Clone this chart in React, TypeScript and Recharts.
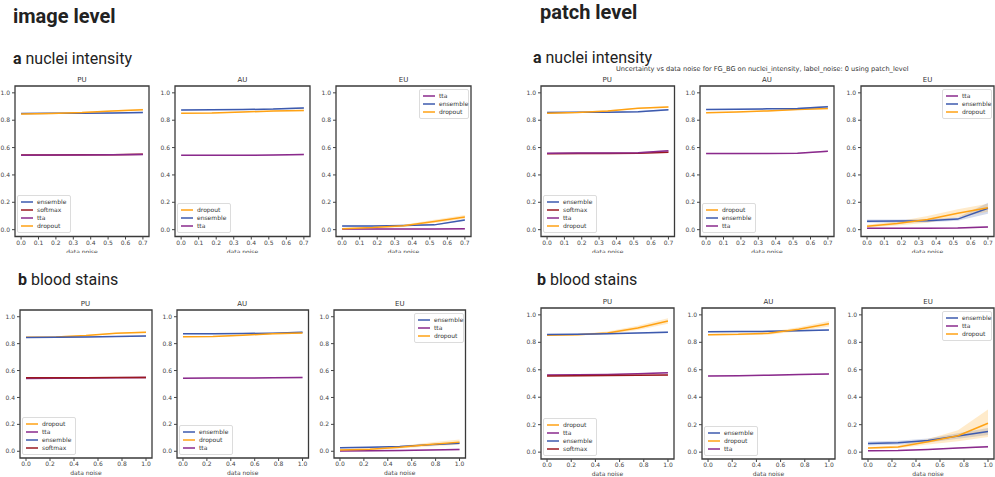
import React from "react";
import { ComposedChart, Line, Area, XAxis, YAxis, ReferenceArea } from "recharts";

// ---------- data ----------
const X_NUCLEI = [0, 0.175, 0.35, 0.525, 0.7];
const X_BLOOD = [0, 0.25, 0.5, 0.75, 1.0];
const X_TICKS_NUCLEI = [0, 0.1, 0.2, 0.3, 0.4, 0.5, 0.6, 0.7];
const X_TICKS_BLOOD = [0, 0.2, 0.4, 0.6, 0.8, 1.0];
const Y_TICKS = [0, 0.2, 0.4, 0.6, 0.8, 1.0];

const SUPTITLE = "Uncertainty vs data noise for FG_BG on nuclei_intensity, label_noise: 0 using patch_level";

// image level — a nuclei intensity
const imgNucPU_ensemble = [0.849, 0.85, 0.85, 0.852, 0.856];
const imgNucPU_softmax = [0.546, 0.546, 0.547, 0.548, 0.551];
const imgNucPU_tta = [0.544, 0.545, 0.546, 0.548, 0.55];
const imgNucPU_dropout = [0.846, 0.849, 0.856, 0.868, 0.877];
const imgNucAU_dropout = [0.851, 0.853, 0.86, 0.867, 0.871];
const imgNucAU_ensemble = [0.874, 0.876, 0.878, 0.881, 0.89];
const imgNucAU_tta = [0.543, 0.543, 0.544, 0.545, 0.549];
const imgNucEU_tta = [0.004, 0.004, 0.005, 0.005, 0.006];
const imgNucEU_ensemble = [0.026, 0.027, 0.03, 0.035, 0.07];
const imgNucEU_dropout = [0.007, 0.015, 0.028, 0.06, 0.093];
const imgNucEU_dropoutStd = [0.005, 0.006, 0.008, 0.012, 0.015];

// patch level — a nuclei intensity
const patNucPU_ensemble = [0.857, 0.858, 0.859, 0.861, 0.876];
const patNucPU_softmax = [0.555, 0.556, 0.557, 0.558, 0.566];
const patNucPU_tta = [0.559, 0.56, 0.561, 0.562, 0.576];
const patNucPU_dropout = [0.851, 0.857, 0.868, 0.887, 0.897];
const patNucAU_dropout = [0.855, 0.86, 0.868, 0.879, 0.886];
const patNucAU_ensemble = [0.878, 0.88, 0.883, 0.886, 0.899];
const patNucAU_tta = [0.556, 0.556, 0.557, 0.559, 0.573];
const patNucEU_tta = [0.01, 0.01, 0.011, 0.013, 0.02];
const patNucEU_ensemble = [0.062, 0.063, 0.066, 0.077, 0.157];
const patNucEU_ensembleStd = [0.012, 0.012, 0.012, 0.012, 0.04];
const patNucEU_dropout = [0.025, 0.045, 0.075, 0.12, 0.16];
const patNucEU_dropoutStd = [0.01, 0.015, 0.025, 0.03, 0.03];

// image level — b blood stains
const imgBloPU_dropout = [0.848, 0.85, 0.86, 0.877, 0.884];
const imgBloPU_tta = [0.541, 0.542, 0.544, 0.546, 0.548];
const imgBloPU_ensemble = [0.846, 0.848, 0.85, 0.853, 0.857];
const imgBloPU_softmax = [0.546, 0.546, 0.547, 0.548, 0.549];
const imgBloAU_ensemble = [0.873, 0.874, 0.875, 0.878, 0.884];
const imgBloAU_dropout = [0.851, 0.853, 0.862, 0.874, 0.879];
const imgBloAU_tta = [0.543, 0.544, 0.545, 0.546, 0.548];
const imgBloEU_ensemble = [0.027, 0.03, 0.035, 0.048, 0.06];
const imgBloEU_tta = [0.002, 0.003, 0.005, 0.01, 0.014];
const imgBloEU_dropout = [0.01, 0.015, 0.03, 0.05, 0.068];
const imgBloEU_dropoutStd = [0.005, 0.006, 0.01, 0.015, 0.02];

// patch level — b blood stains
const patBloPU_dropout = [0.852, 0.855, 0.868, 0.905, 0.955];
const patBloPU_dropoutStd = [0.005, 0.006, 0.01, 0.015, 0.02];
const patBloPU_tta = [0.562, 0.563, 0.566, 0.571, 0.578];
const patBloPU_ensemble = [0.857, 0.858, 0.862, 0.868, 0.874];
const patBloPU_softmax = [0.555, 0.556, 0.558, 0.56, 0.562];
const patBloAU_ensemble = [0.877, 0.878, 0.88, 0.885, 0.89];
const patBloAU_dropout = [0.855, 0.858, 0.866, 0.895, 0.935];
const patBloAU_dropoutStd = [0.005, 0.006, 0.01, 0.015, 0.02];
const patBloAU_tta = [0.555, 0.557, 0.56, 0.565, 0.569];
const patBloEU_ensemble = [0.063, 0.068, 0.085, 0.118, 0.15];
const patBloEU_ensembleStd = [0.015, 0.015, 0.015, 0.02, 0.025];
const patBloEU_tta = [0.01, 0.012, 0.019, 0.03, 0.04];
const patBloEU_dropout = [0.03, 0.038, 0.075, 0.12, 0.21];
const patBloEU_dropoutStd = [0.008, 0.01, 0.02, 0.04, 0.1];

const THIN = [0.004, 0.004, 0.004, 0.004, 0.006];

// ---------- styles ----------
const COLORS: Record<string, string> = {
  ensemble: "#3d5aae",
  softmax: "#9a1820",
  tta: "#8a2a8c",
  dropout: "#ffa214",
};

type Series = { name: string; values: number[]; std?: number[] };
type PanelProps = {
  title: string;
  box: [number, number, number, number];
  xs: number[];
  xDomain: [number, number];
  xTicks: number[];
  series: Series[];
  legend: "bl" | "tr";
};

const TICK_STYLE = { fontSize: 6, fill: "#444", fontFamily: "DejaVu Sans" };
const YAXIS_W = 24;
const XAXIS_H = 17;
const TOP_M = 12;

function Panel({ title, box, xs, xDomain, xTicks, series, legend }: PanelProps) {
  const [l, t, r, b] = box;
  const w = r - l;
  const h = b - t;
  const data = xs.map((x, i) => {
    const row: any = { x };
    series.forEach((s) => {
      const std = (s.std || THIN)[i];
      row[s.name] = s.values[i];
      row[s.name + "_band"] = [s.values[i] - std, s.values[i] + std];
    });
    return row;
  });
  const legH = series.length * 8 + 6;
  const legendPos =
    legend === "bl"
      ? { left: Math.round(l + 2), top: Math.round(b - 3 - legH) }
      : { left: Math.round(r - 2 - 50), top: Math.round(t + 3) };
  return (
    <>
      <div
        style={{
          position: "absolute",
          left: l,
          top: t - 10,
          width: w,
          textAlign: "center",
          fontFamily: "DejaVu Sans",
          fontSize: 7,
          lineHeight: "8px",
          color: "#333",
        }}
      >
        {title}
      </div>
      <div style={{ position: "absolute", left: l - YAXIS_W, top: t - TOP_M }}>
        <ComposedChart
          width={w + YAXIS_W + 2}
          height={h + TOP_M + XAXIS_H}
          data={data}
          margin={{ top: TOP_M, right: 2, bottom: 0, left: 0 }}
        >
          <XAxis
            type="number"
            dataKey="x"
            domain={xDomain}
            allowDataOverflow
            ticks={xTicks}
            interval={0}
            tickFormatter={(v: number) => v.toFixed(1)}
            tick={TICK_STYLE}
            tickSize={3}
            tickMargin={1}
            axisLine={false}
            tickLine={{ stroke: "#444" }}
            height={XAXIS_H}
            label={{ value: "data noise", position: "insideBottom", offset: 0, style: { fontSize: 6, fill: "#444", fontFamily: "DejaVu Sans" } }}
          />
          <YAxis
            type="number"
            domain={[-0.05, 1.05]}
            allowDataOverflow
            ticks={Y_TICKS}
            interval={0}
            tickFormatter={(v: number) => v.toFixed(1)}
            tick={TICK_STYLE}
            tickSize={3}
            tickMargin={2}
            axisLine={false}
            tickLine={{ stroke: "#444" }}
            width={YAXIS_W}
          />
          {series.map((s) => (
            <Area
              key={s.name + "_band"}
              type="linear"
              dataKey={s.name + "_band"}
              stroke="none"
              fill={COLORS[s.name]}
              fillOpacity={0.22}
              isAnimationActive={false}
              dot={false}
              activeDot={false}
            />
          ))}
          {series.map((s) => (
            <Line
              key={s.name}
              type="linear"
              dataKey={s.name}
              stroke={COLORS[s.name]}
              strokeWidth={1.5}
              dot={false}
              activeDot={false}
              isAnimationActive={false}
            />
          ))}
          <ReferenceArea
            x1={xDomain[0]}
            x2={xDomain[1]}
            y1={-0.05}
            y2={1.05}
            fill="none"
            stroke="#3a3a3a"
            strokeWidth={1.3}
            ifOverflow="visible"
          />
        </ComposedChart>
      </div>
      <div
        style={{
          position: "absolute",
          ...legendPos,
          width: legend === "tr" ? 50 : undefined,
          boxSizing: "border-box",
          border: "1px solid #dcdcdc",
          borderRadius: 2,
          background: "rgba(255,255,255,0.85)",
          padding: "2px 4px 2px 3px",
          fontFamily: "DejaVu Sans",
          fontSize: 6,
          color: "#333",
        }}
      >
        {series.map((s) => (
          <div key={s.name} style={{ display: "flex", alignItems: "center", height: 8, whiteSpace: "nowrap" }}>
            <svg width={12} height={4} style={{ flexShrink: 0, marginRight: 4, display: "block" }}>
              <line x1={0} y1={2} x2={12} y2={2} stroke={COLORS[s.name]} strokeWidth={1.5} />
            </svg>
            <span style={{ lineHeight: "8px" }}>{s.name}</span>
          </div>
        ))}
      </div>
    </>
  );
}

const heading = (text: string, left: number, top: number) => (
  <div
    style={{
      position: "absolute",
      left,
      top,
      fontFamily: "Roboto",
      fontWeight: 700,
      fontSize: 20,
      lineHeight: "20px",
      color: "#222",
      whiteSpace: "nowrap",
    }}
  >
    {text}
  </div>
);

const sub = (letter: string, text: string, left: number, top: number) => (
  <div
    style={{
      position: "absolute",
      left,
      top,
      fontFamily: "Roboto",
      fontSize: 16,
      lineHeight: "16px",
      color: "#222",
      whiteSpace: "nowrap",
    }}
  >
    <b>{letter}</b> {text}
  </div>
);

const NUC = { xs: X_NUCLEI, xDomain: [-0.035, 0.735] as [number, number], xTicks: X_TICKS_NUCLEI };
const BLO = { xs: X_BLOOD, xDomain: [-0.05, 1.05] as [number, number], xTicks: X_TICKS_BLOOD };

export default function App() {
  return (
    <div
      style={{
        position: "absolute",
        left: 0,
        top: 0,
        width: 995,
        height: 477,
        background: "#fff",
        overflow: "hidden",
      }}
    >
      {heading("image level", 13, 6)}
      {heading("patch level", 540, 2)}
      {sub("a", "nuclei intensity", 13, 51)}
      {sub("a", "nuclei intensity", 533, 50)}
      {sub("b", "blood stains", 18, 272)}
      {sub("b", "blood stains", 537, 272)}
      <div
        style={{
          position: "absolute",
          left: 616,
          top: 65,
          fontFamily: "DejaVu Sans",
          fontSize: 6.6,
          lineHeight: "8px",
          color: "#333",
          whiteSpace: "nowrap",
        }}
      >
        {SUPTITLE}
      </div>

      {/* image level, nuclei intensity */}
      <Panel title="PU" box={[15, 85.5, 149, 236]} {...NUC} legend="bl"
        series={[
          { name: "ensemble", values: imgNucPU_ensemble },
          { name: "softmax", values: imgNucPU_softmax },
          { name: "tta", values: imgNucPU_tta },
          { name: "dropout", values: imgNucPU_dropout },
        ]} />
      <Panel title="AU" box={[175, 85.5, 310, 236]} {...NUC} legend="bl"
        series={[
          { name: "dropout", values: imgNucAU_dropout },
          { name: "ensemble", values: imgNucAU_ensemble },
          { name: "tta", values: imgNucAU_tta },
        ]} />
      <Panel title="EU" box={[336, 85.5, 471, 236]} {...NUC} legend="tr"
        series={[
          { name: "tta", values: imgNucEU_tta },
          { name: "ensemble", values: imgNucEU_ensemble },
          { name: "dropout", values: imgNucEU_dropout, std: imgNucEU_dropoutStd },
        ]} />

      {/* patch level, nuclei intensity */}
      <Panel title="PU" box={[540.5, 85.5, 674, 236]} {...NUC} legend="bl"
        series={[
          { name: "ensemble", values: patNucPU_ensemble },
          { name: "softmax", values: patNucPU_softmax },
          { name: "tta", values: patNucPU_tta },
          { name: "dropout", values: patNucPU_dropout },
        ]} />
      <Panel title="AU" box={[700, 85.5, 834, 236]} {...NUC} legend="bl"
        series={[
          { name: "dropout", values: patNucAU_dropout },
          { name: "ensemble", values: patNucAU_ensemble },
          { name: "tta", values: patNucAU_tta },
        ]} />
      <Panel title="EU" box={[861, 85.5, 994, 236]} {...NUC} legend="tr"
        series={[
          { name: "tta", values: patNucEU_tta },
          { name: "ensemble", values: patNucEU_ensemble, std: patNucEU_ensembleStd },
          { name: "dropout", values: patNucEU_dropout, std: patNucEU_dropoutStd },
        ]} />

      {/* image level, blood stains */}
      <Panel title="PU" box={[19.5, 309.5, 151.5, 457.5]} {...BLO} legend="bl"
        series={[
          { name: "dropout", values: imgBloPU_dropout },
          { name: "tta", values: imgBloPU_tta },
          { name: "ensemble", values: imgBloPU_ensemble },
          { name: "softmax", values: imgBloPU_softmax },
        ]} />
      <Panel title="AU" box={[176.5, 309.5, 308, 457.5]} {...BLO} legend="bl"
        series={[
          { name: "ensemble", values: imgBloAU_ensemble },
          { name: "dropout", values: imgBloAU_dropout },
          { name: "tta", values: imgBloAU_tta },
        ]} />
      <Panel title="EU" box={[334, 309.5, 465.5, 457.5]} {...BLO} legend="tr"
        series={[
          { name: "ensemble", values: imgBloEU_ensemble },
          { name: "tta", values: imgBloEU_tta },
          { name: "dropout", values: imgBloEU_dropout, std: imgBloEU_dropoutStd },
        ]} />

      {/* patch level, blood stains */}
      <Panel title="PU" box={[541, 307.5, 674, 458.5]} {...BLO} legend="bl"
        series={[
          { name: "dropout", values: patBloPU_dropout, std: patBloPU_dropoutStd },
          { name: "tta", values: patBloPU_tta },
          { name: "ensemble", values: patBloPU_ensemble },
          { name: "softmax", values: patBloPU_softmax },
        ]} />
      <Panel title="AU" box={[702, 307.5, 835, 458.5]} {...BLO} legend="bl"
        series={[
          { name: "ensemble", values: patBloAU_ensemble },
          { name: "dropout", values: patBloAU_dropout, std: patBloAU_dropoutStd },
          { name: "tta", values: patBloAU_tta },
        ]} />
      <Panel title="EU" box={[862, 307.5, 994, 458.5]} {...BLO} legend="tr"
        series={[
          { name: "ensemble", values: patBloEU_ensemble, std: patBloEU_ensembleStd },
          { name: "tta", values: patBloEU_tta },
          { name: "dropout", values: patBloEU_dropout, std: patBloEU_dropoutStd },
        ]} />
    </div>
  );
}
